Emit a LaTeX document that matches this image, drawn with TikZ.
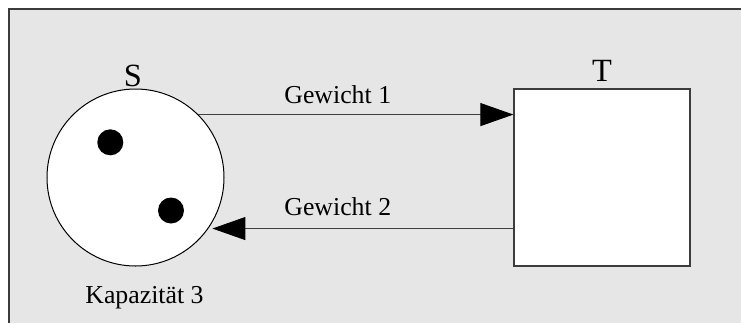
\documentclass[tikz,border=0pt]{standalone}
\usepackage{fontspec}
\setmainfont{Liberation Serif}
\usetikzlibrary{arrows.meta}
\definecolor{bg}{HTML}{E6E6E6}
\definecolor{frame}{HTML}{3C3C3C}
\begin{document}
\begin{tikzpicture}[x=0.5pt,y=-0.5pt,
  bigfont/.style={font=\fontsize{16.2pt}{19pt}\selectfont},
  smallfont/.style={font=\fontsize{12.9pt}{15pt}\selectfont},
  conn/.style={line width=0.5pt, draw=black!75, -{Triangle[length=16.5pt,width=11.5pt,color=black,fill=black]}},
  token/.style={circle, fill=black, inner sep=0pt, minimum size=13pt}]
\useasboundingbox (0,0) rectangle (741,323);
\fill[white] (0,0) rectangle (741,323);
\fill[bg] (9,9) rectangle (741,323);
\draw[frame, line width=0.6pt] (9,323) -- (9,9) -- (741,9);
% place S
\node[circle, draw=black, line width=0.5pt, fill=white, minimum size=88.5pt, inner sep=0pt] (S) at (135.5,177.5) {};
\node[token] (d1) at (110.3,142.3) {};
\node[token] (d2) at (171,210.5) {};
% transition T
\node[rectangle, draw=frame, line width=0.6pt, fill=white, minimum width=88pt, minimum height=88.5pt, inner sep=0pt] (T) at (602,177.5) {};
% labels
\node[bigfont, anchor=base, inner sep=0pt] (sl) at (132.8,86) {S};
\node[bigfont, anchor=base, inner sep=0pt] (tl) at (602,81) {T};
\node[smallfont, anchor=base west, inner sep=0pt] (g1) at (284,103) {Gewicht 1};
\node[smallfont, anchor=base west, inner sep=0pt] (g2) at (284,215) {Gewicht 2};
\node[smallfont, anchor=base west, inner sep=0pt] (kap) at (85,303) {Kapazität 3};
% arcs
\coordinate (a1s) at (S.45);
\draw[conn] (a1s) -- (a1s -| T.west);
\coordinate (a2e) at (S.-35);
\draw[conn, shorten >=2pt] (a2e -| T.west) -- (a2e);
\end{tikzpicture}
\end{document}
